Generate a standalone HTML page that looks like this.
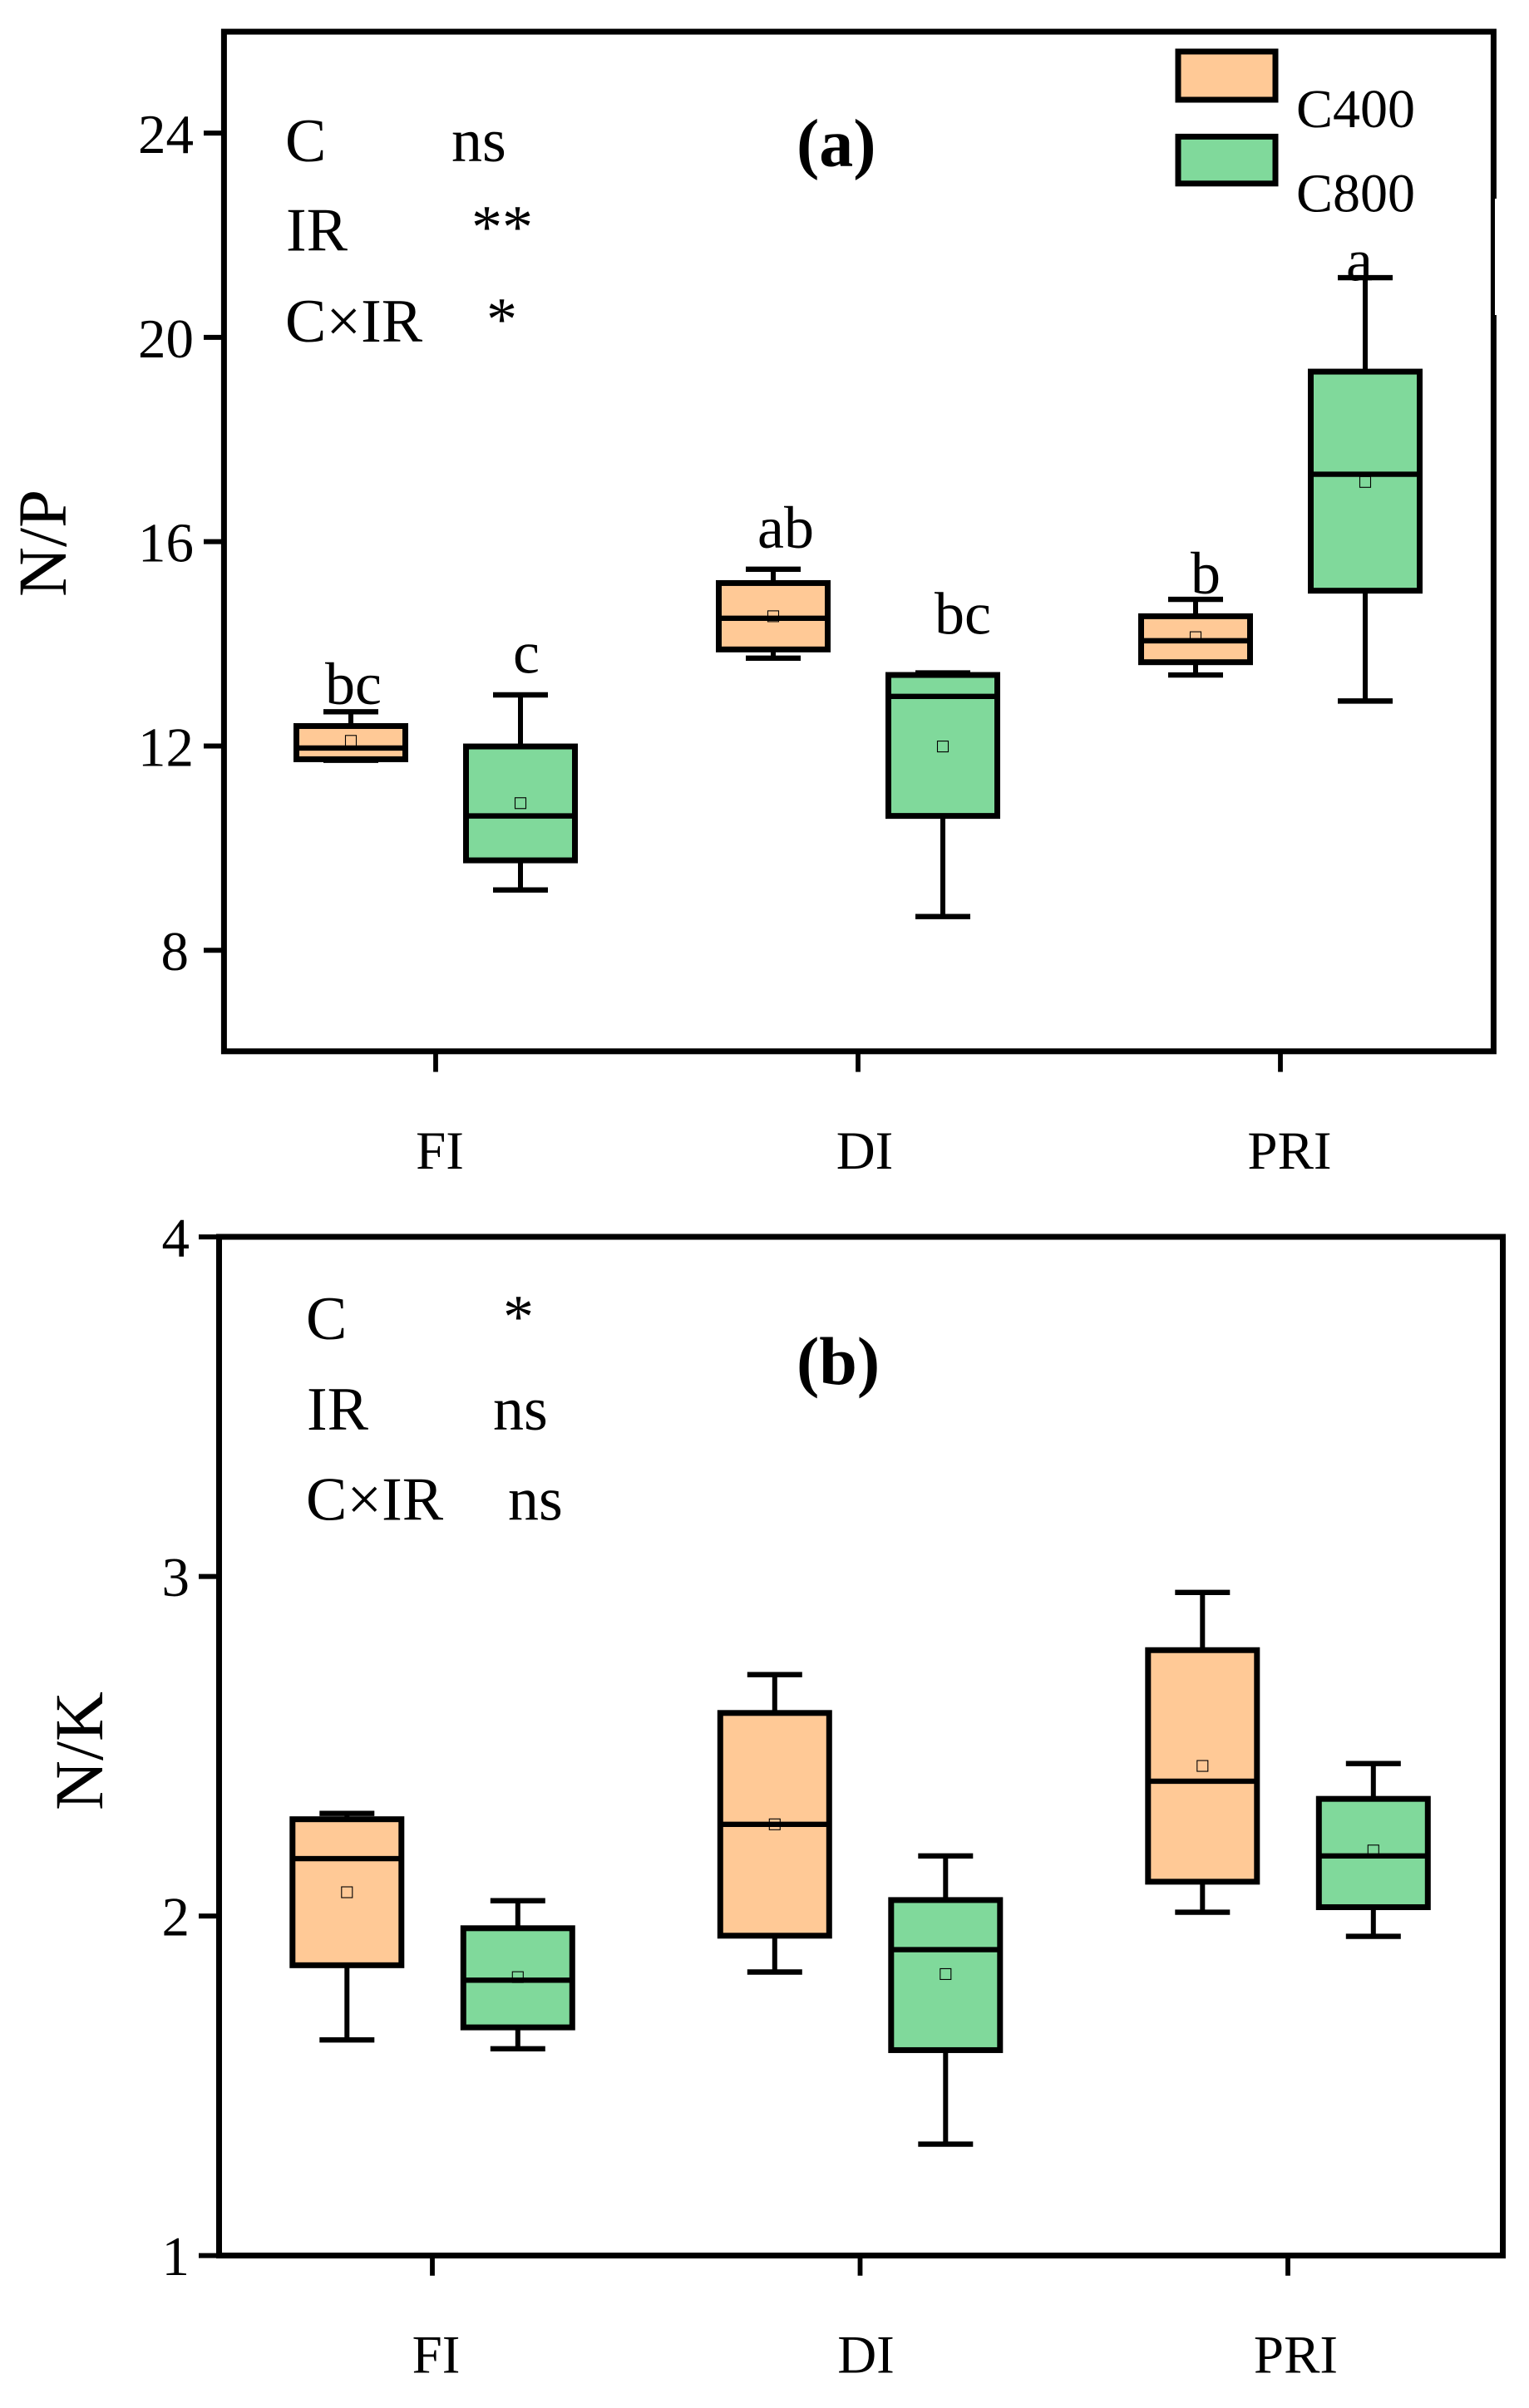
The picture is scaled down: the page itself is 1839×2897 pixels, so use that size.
<!DOCTYPE html>
<html lang="en">
<head>
<meta charset="utf-8">
<title>N/P and N/K box plots</title>
<style>
html,body{margin:0;padding:0;background:#fff}
svg{display:block}
text{font-family:"Liberation Serif",serif;fill:#000}
</style>
</head>
<body>
<svg id="chart" xmlns="http://www.w3.org/2000/svg" width="1839" height="2897" viewBox="0 0 1839 2897">
  <rect x="0" y="0" width="1839" height="2897" fill="#fff"/>

  <g id="panelA">
    <rect x="269.4" y="38.1" width="1527" height="1226.7" fill="none" stroke="#000" stroke-width="7"/>
    <rect x="1798" y="239" width="3" height="140" fill="#fff"/>
    <text transform="translate(79,718) rotate(-90)" font-size="83">N/P</text>
    <text x="958" y="199.7" font-size="82" font-weight="bold">(a)</text>
    <text x="343" y="194" font-size="74">C</text>
    <text x="543" y="194" font-size="74">ns</text>
    <text x="344" y="301.6" font-size="74">IR</text>
    <text x="567" y="298" font-size="74">**</text>
    <text x="343" y="411" font-size="74">C×IR</text>
    <text x="585" y="409" font-size="74">*</text>
    <rect x="1417" y="62" width="117" height="58" fill="#FFC996" stroke="#000" stroke-width="7"/>
    <rect x="1417" y="164.4" width="117" height="56.4" fill="#80D99B" stroke="#000" stroke-width="7"/>
    <text x="1559" y="152.8" font-size="66">C400</text>
    <text x="1559" y="254.3" font-size="66">C800</text>
    <text x="391" y="847" font-size="72">bc</text>
    <text x="617" y="809.7" font-size="72">c</text>
    <text x="911" y="659" font-size="72">ab</text>
    <text x="1124" y="762.7" font-size="72">bc</text>
    <text x="1432" y="714" font-size="72">b</text>
    <text x="1619" y="337.5" font-size="72">a</text>
  </g>

  <g id="panelB">
    <rect x="263.5" y="1488" width="1544" height="1225.6" fill="none" stroke="#000" stroke-width="7"/>
    <text transform="translate(123,2178) rotate(-90)" font-size="83">N/K</text>
    <text x="958" y="1665" font-size="82" font-weight="bold">(b)</text>
    <text x="368" y="1611" font-size="74">C</text>
    <text x="605" y="1609" font-size="74">*</text>
    <text x="369" y="1720" font-size="74">IR</text>
    <text x="593" y="1720" font-size="74">ns</text>
    <text x="368" y="1828.7" font-size="74">C×IR</text>
    <text x="611" y="1828.7" font-size="74">ns</text>
  </g>
</svg>

<script>
const categories = ['FI', 'DI', 'PRI'];
const seriesNames = ['C400', 'C800'];
const npTicks = [8, 12, 16, 20, 24];
const nkTicks = [1, 2, 3, 4];

const npC400WhiskerLow = [11.72, 13.72, 13.39];
const npC400Q1 = [11.74, 13.89, 13.64];
const npC400Median = [11.96, 14.50, 14.06];
const npC400Q3 = [12.39, 15.19, 14.54];
const npC400WhiskerHigh = [12.67, 15.46, 14.87];
const npC400Mean = [12.10, 14.54, 14.13];

const npC800WhiskerLow = [9.18, 8.66, 12.88];
const npC800Q1 = [9.76, 10.63, 15.04];
const npC800Median = [10.63, 12.97, 17.32];
const npC800Q3 = [11.99, 13.39, 19.33];
const npC800WhiskerHigh = [13.00, 13.43, 21.17];
const npC800Mean = [10.88, 11.99, 17.17];

const nkC400WhiskerLow = [1.635, 1.835, 2.011];
const nkC400Q1 = [1.855, 1.942, 2.101];
const nkC400Median = [2.169, 2.270, 2.397];
const nkC400Q3 = [2.285, 2.598, 2.783];
const nkC400WhiskerHigh = [2.302, 2.711, 2.953];
const nkC400Mean = [2.070, 2.270, 2.442];

const nkC800WhiskerLow = [1.609, 1.328, 1.940];
const nkC800Q1 = [1.672, 1.605, 2.026];
const nkC800Median = [1.811, 1.901, 2.177];
const nkC800Q3 = [1.964, 2.047, 2.345];
const nkC800WhiskerHigh = [2.045, 2.177, 2.449];
const nkC800Mean = [1.820, 1.829, 2.193];

const SVG_NS = 'http://www.w3.org/2000/svg';
const seriesFill = ['#FFC996', '#80D99B'];

function add(parent, tag, attrs) {
  const node = document.createElementNS(SVG_NS, tag);
  for (const key in attrs) node.setAttribute(key, attrs[key]);
  parent.appendChild(node);
  return node;
}

function yNP(v) { return 1143.2 - (v - 8) * 61.44; }
function yNK(v) { return 2713.6 - (v - 1) * 408.5; }
function tickXNP(i) { return 524 + 508 * i; }
function tickXNK(i) { return 520 + 514.5 * i; }
function boxXNP(i, s) { return tickXNP(i) + (s === 0 ? -102 : 102); }
function boxXNK(i, s) { return tickXNK(i) + (s === 0 ? -102.7 : 102.8); }
function catLabelXNP(i) { return 529 + 511 * i; }
function catLabelXNK(i) { return 524.5 + 517 * i; }

function drawBox(parent, prefix, i, s, x, y, low, q1, med, q3, high, mean) {
  const halfW = 65.5;
  const capW = 33;
  const name = prefix + '-' + categories[i].toLowerCase() + '-' + seriesNames[s].toLowerCase();

  const whisker = add(parent, 'line', { x1: x, x2: x, y1: y(low), y2: y(high), stroke: '#000', 'stroke-width': 6 });
  
  

  const capLow = add(parent, 'line', { x1: x - capW, x2: x + capW, y1: y(low), y2: y(low), stroke: '#000', 'stroke-width': 6.4 });
  
  

  const capHigh = add(parent, 'line', { x1: x - capW, x2: x + capW, y1: y(high), y2: y(high), stroke: '#000', 'stroke-width': 6.4 });
  
  

  const box = add(parent, 'rect', { x: x - halfW, y: y(q3), width: halfW * 2, height: y(q1) - y(q3), fill: seriesFill[s], stroke: '#000', 'stroke-width': 7 });
  
  

  const meanMark = add(parent, 'rect', { x: x - 6.5, y: y(mean) - 6.5, width: 13, height: 13, fill: 'none', stroke: '#000', 'stroke-width': 1.1 });
  
  

  const medianLine = add(parent, 'line', { x1: x - halfW, x2: x + halfW, y1: y(med), y2: y(med), stroke: '#000', 'stroke-width': 6.4 });
  
  
}

const panelA = document.getElementById('panelA');
const panelB = document.getElementById('panelB');

npTicks.forEach(function (t) {
  const tick = add(panelA, 'line', { x1: 245, x2: 269.4, y1: yNP(t), y2: yNP(t), stroke: '#000', 'stroke-width': 6 });
  
  
  const label = add(panelA, 'text', { x: String(t).length === 1 ? 227 : 233, y: yNP(t) + 24, 'font-size': 67, 'text-anchor': 'end' });
  label.textContent = String(t);
  
  
});

nkTicks.forEach(function (t) {
  const tick = add(panelB, 'line', { x1: 239, x2: 263.5, y1: yNK(t), y2: yNK(t), stroke: '#000', 'stroke-width': 6 });
  
  
  const label = add(panelB, 'text', { x: 228, y: yNK(t) + 23.2, 'font-size': 67, 'text-anchor': 'end' });
  label.textContent = String(t);
  
  
});

categories.forEach(function (c, i) {
  const tickA = add(panelA, 'line', { x1: tickXNP(i), x2: tickXNP(i), y1: 1264.8, y2: 1289.6, stroke: '#000', 'stroke-width': 5.8 });
  
  
  const labelA = add(panelA, 'text', { x: catLabelXNP(i), y: 1406, 'font-size': 65, 'text-anchor': 'middle' });
  labelA.textContent = c;
  
  

  const tickB = add(panelB, 'line', { x1: tickXNK(i), x2: tickXNK(i), y1: 2713.6, y2: 2737.8, stroke: '#000', 'stroke-width': 5.8 });
  
  
  const labelB = add(panelB, 'text', { x: catLabelXNK(i), y: 2854.4, 'font-size': 65, 'text-anchor': 'middle' });
  labelB.textContent = c;
  
  

  drawBox(panelA, 'np', i, 0, boxXNP(i, 0), yNP, npC400WhiskerLow[i], npC400Q1[i], npC400Median[i], npC400Q3[i], npC400WhiskerHigh[i], npC400Mean[i]);
  drawBox(panelA, 'np', i, 1, boxXNP(i, 1), yNP, npC800WhiskerLow[i], npC800Q1[i], npC800Median[i], npC800Q3[i], npC800WhiskerHigh[i], npC800Mean[i]);
  drawBox(panelB, 'nk', i, 0, boxXNK(i, 0), yNK, nkC400WhiskerLow[i], nkC400Q1[i], nkC400Median[i], nkC400Q3[i], nkC400WhiskerHigh[i], nkC400Mean[i]);
  drawBox(panelB, 'nk', i, 1, boxXNK(i, 1), yNK, nkC800WhiskerLow[i], nkC800Q1[i], nkC800Median[i], nkC800Q3[i], nkC800WhiskerHigh[i], nkC800Mean[i]);
});
</script>
</body>
</html>
